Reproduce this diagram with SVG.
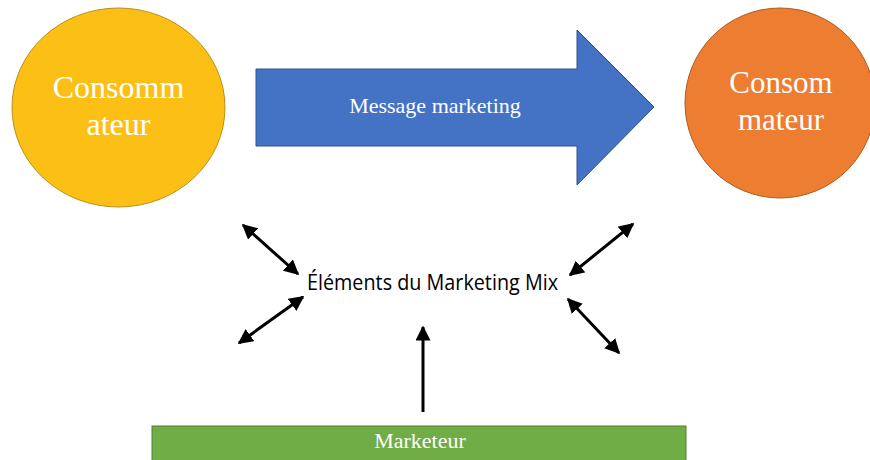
<svg xmlns="http://www.w3.org/2000/svg" width="870" height="460" viewBox="0 0 870 460">
<style>
.serif{font-family:"Liberation Serif","Times New Roman",serif;fill:#ffffff;text-anchor:middle}
.conn{stroke:#000;stroke-width:3;fill:none}
</style>
<defs>
<marker id="ah" viewBox="0 0 10 10" refX="9" refY="5" markerWidth="5" markerHeight="5" orient="auto-start-reverse" markerUnits="strokeWidth">
<path d="M0,0 L10,5 L0,10 z" fill="#000"/>
</marker>
</defs>
<rect width="870" height="460" fill="#fff"/>
<g id="consommateur1">
<ellipse cx="118.5" cy="107.5" rx="106.5" ry="99.5" fill="#FBBF16" stroke="#B8901C" stroke-width="1"/>
<text class="serif" x="118.5" y="98" font-size="32">Consomm</text>
<text class="serif" x="118.5" y="135" font-size="32">ateur</text>
</g>
<g id="message">
<path d="M256,69 L577,69 L577,30 L654,107 L577,185 L577,146 L256,146 Z" fill="#4472C4" stroke="#2F528F" stroke-width="1"/>
<text class="serif" x="435" y="113" font-size="22">Message marketing</text>
</g>
<g id="consommateur2">
<ellipse cx="780" cy="103" rx="95" ry="95" fill="#ED7D31" stroke="#AE5A21" stroke-width="1"/>
<text class="serif" x="781" y="93" font-size="31">Consom</text>
<text class="serif" x="781" y="130" font-size="31">mateur</text>
</g>
<g id="mix">
<text x="307" y="290" font-family="'Open Sans','Noto Sans',sans-serif" font-size="22" fill="#000" textLength="251" lengthAdjust="spacingAndGlyphs">Éléments du Marketing Mix</text>
</g>
<g id="marketeur">
<rect x="152" y="426" width="534" height="40" fill="#70AD47" stroke="#507E32" stroke-width="1"/>
<text class="serif" x="420" y="448" font-size="22">Marketeur</text>
</g>
<g id="connectors">
<line class="conn" x1="243" y1="225" x2="298" y2="274" marker-start="url(#ah)" marker-end="url(#ah)"/>
<line class="conn" x1="303" y1="297" x2="239" y2="343" marker-start="url(#ah)" marker-end="url(#ah)"/>
<line class="conn" x1="633" y1="224" x2="570" y2="275" marker-start="url(#ah)" marker-end="url(#ah)"/>
<line class="conn" x1="568" y1="299" x2="619" y2="353" marker-start="url(#ah)" marker-end="url(#ah)"/>
<line class="conn" x1="423" y1="412" x2="423" y2="327" marker-end="url(#ah)"/>
</g>
</svg>
